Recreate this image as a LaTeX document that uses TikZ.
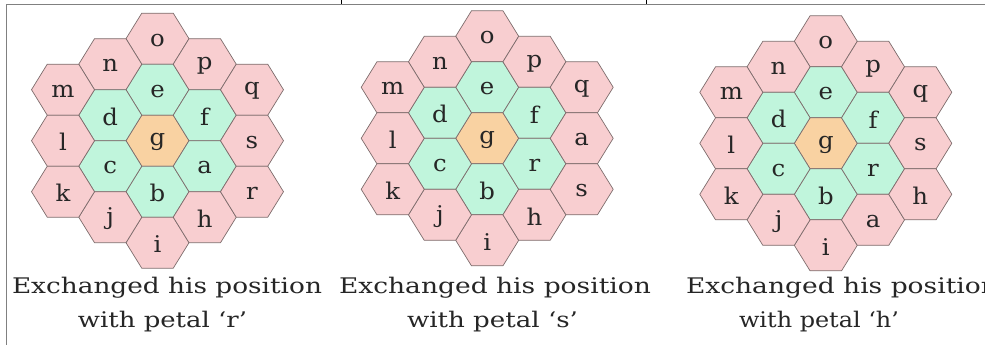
\documentclass[tikz,border=0pt]{standalone}
\usepackage{graphicx}
\usepackage{fontspec}
\setmainfont{DejaVu Serif}

% cell colours: outer petals, first ring, core
\definecolor{petal}{RGB}{248,206,208}
\definecolor{ring}{RGB}{192,245,220}
\definecolor{core}{RGB}{249,210,162}
\definecolor{edge}{RGB}{125,108,108}
\definecolor{framegray}{RGB}{128,128,128}

\tikzset{
  hexcell/.style={draw=edge, line width=0.7pt, line join=miter},
  letter/.style={inner sep=0pt, yshift=-1.5pt, text=black!85, font=\fontsize{23}{23}\selectfont},
  caption/.style={anchor=base, inner sep=0pt, text=black!85, font=\fontsize{21.5}{21.5}\selectfont},
  framerule/.style={draw=framegray, line width=1.6pt},
  tickrule/.style={draw=black, line width=1.2pt},
}

% flat-topped hexagon around the origin
\newcommand\hexpath{(-31.5,0) -- (-15.75,-25.5) -- (15.75,-25.5) -- (31.5,0) -- (15.75,25.5) -- (-15.75,25.5) -- cycle}

% one cell: #1 prefix, #2 column, #3 row, #4 letter, #5 fill
\newcommand\cell[5]{%
  \filldraw[hexcell, fill=#5, shift={(#2*47.25,#3*51)}] \hexpath;
  \node[letter] (#1#4) at (#2*47.25,#3*51) {\scalebox{1.06}[1]{#4}};
}

% whole flower: #1 prefix, #2..#5 letters in the moving positions
\newcommand\flower[5]{%
  \cell{#1}{0}{-2}{o}{petal}
  \cell{#1}{0}{-1}{e}{ring}
  \cell{#1}{0}{0}{g}{core}
  \cell{#1}{0}{1}{b}{ring}
  \cell{#1}{0}{2}{i}{petal}
  \cell{#1}{-1}{-1.5}{n}{petal}
  \cell{#1}{-1}{-0.5}{d}{ring}
  \cell{#1}{-1}{0.5}{c}{ring}
  \cell{#1}{-1}{1.5}{j}{petal}
  \cell{#1}{-2}{-1}{m}{petal}
  \cell{#1}{-2}{0}{l}{petal}
  \cell{#1}{-2}{1}{k}{petal}
  \cell{#1}{1}{-1.5}{p}{petal}
  \cell{#1}{1}{-0.5}{f}{ring}
  \cell{#1}{1}{0.5}{#2}{ring}
  \cell{#1}{1}{1.5}{#3}{petal}
  \cell{#1}{2}{-1}{q}{petal}
  \cell{#1}{2}{0}{#4}{petal}
  \cell{#1}{2}{1}{#5}{petal}
}

\begin{document}
\begin{tikzpicture}[x=1pt, y=-1pt]
  \useasboundingbox (0,0) rectangle (985,345);
  \clip (0,0) rectangle (985,345);

  % table rules
  \coordinate (tl) at (6.5,4.5);
  \coordinate (tr) at (985,4.5);
  \coordinate (bl) at (6.5,345);
  \draw[framerule] (bl) -- (tl) -- (tr);
  \coordinate (t1a) at (341.5,0);
  \coordinate (t1b) at (341.5,4.5);
  \coordinate (t2a) at (646.5,0);
  \coordinate (t2b) at (646.5,4.5);
  \draw[tickrule] (t1a) -- (t1b);
  \draw[tickrule] (t2a) -- (t2b);

  % three flowers
  \begin{scope}[shift={(157.5,140.7)}]
    \flower{L}{a}{h}{s}{r}
  \end{scope}
  \begin{scope}[shift={(487.2,138.3)}]
    \flower{M}{r}{h}{a}{s}
  \end{scope}
  \begin{scope}[shift={(825.8,143.3)}]
    \flower{R}{r}{a}{s}{h}
  \end{scope}

  % captions (the last one runs past the right edge)
  \node[caption] (capL1) at (167,293) {\resizebox{310pt}{\height}{Exchanged his position}};
  \node[caption] (capL2) at (162.5,327) {\resizebox{169pt}{\height}{with petal ‘r’}};
  \node[caption] (capM1) at (495,293) {\resizebox{312pt}{\height}{Exchanged his position}};
  \node[caption] (capM2) at (492.5,327) {\resizebox{171pt}{\height}{with petal ‘s’}};
  \node[caption] (capR1) at (842,293) {\resizebox{312pt}{\height}{Exchanged his position}};
  \node[caption] (capR2) at (819,327) {\resizebox{160pt}{\height}{with petal ‘h’}};
\end{tikzpicture}
\end{document}
